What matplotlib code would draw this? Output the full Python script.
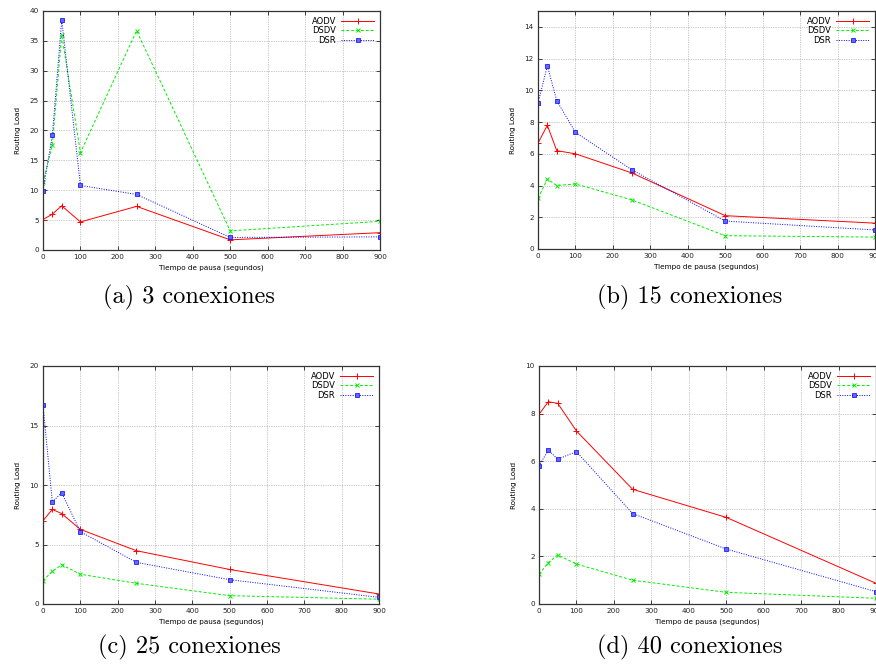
import matplotlib
matplotlib.use('Agg')
import matplotlib.pyplot as plt

pausa = [0, 25, 50, 100, 250, 500, 900]

aodv_3 = [5.1, 6.0, 7.4, 4.7, 7.3, 1.7, 2.9]
dsdv_3 = [11.3, 17.6, 36.0, 16.3, 36.7, 3.2, 4.8]
dsr_3 = [9.9, 19.2, 38.5, 10.8, 9.3, 2.1, 2.2]

aodv_15 = [6.67, 7.8, 6.2, 6.0, 4.8, 2.1, 1.63]
dsdv_15 = [3.2, 4.4, 4.0, 4.1, 3.1, 0.84, 0.75]
dsr_15 = [9.2, 11.55, 9.35, 7.35, 5.0, 1.76, 1.2]

aodv_25 = [7.0, 7.95, 7.6, 6.27, 4.48, 2.9, 0.84]
dsdv_25 = [1.96, 2.75, 3.3, 2.5, 1.74, 0.7, 0.4]
dsr_25 = [16.7, 8.57, 9.36, 6.08, 3.5, 2.04, 0.56]

aodv_40 = [7.97, 8.5, 8.43, 7.27, 4.82, 3.64, 0.87]
dsdv_40 = [1.25, 1.74, 2.06, 1.68, 1.0, 0.49, 0.24]
dsr_40 = [5.81, 6.46, 6.09, 6.4, 3.8, 2.31, 0.52]

captions = ['(a) 3 conexiones', '(b) 15 conexiones', '(c) 25 conexiones', '(d) 40 conexiones']
ymaxs = [40, 15, 20, 10]
ysteps = [5, 2, 5, 2]
series = [(aodv_3, dsdv_3, dsr_3), (aodv_15, dsdv_15, dsr_15),
          (aodv_25, dsdv_25, dsr_25), (aodv_40, dsdv_40, dsr_40)]

W, H = 876, 666
# pixel boxes: left, right, top, bottom
boxes = [(43, 380, 11, 250), (538, 875, 11, 249), (43, 379, 366, 604), (539, 876, 366, 604)]
cap_pos = [(189, 297), (690, 297), (189, 647), (690, 647)]

fig = plt.figure(figsize=(W / 100, H / 100), dpi=100)
fs = 5.2

for k in range(4):
    l, r, t, b = boxes[k]
    ax = fig.add_axes([l / W, 1 - b / H, (r - l) / W, (b - t) / H])
    a, d, s = series[k]
    ax.plot(pausa, a, color='#ff0000', lw=0.7, marker='+', ms=4, mew=0.7, label='AODV')
    ax.plot(pausa, d, color='#00ee00', lw=0.7, ls=(0, (3, 2)), marker='x', ms=3, mew=0.7, label='DSDV')
    ax.plot(pausa, s, color='#0000ff', lw=0.7, ls=(0, (1, 1.5)), marker='s', ms=2.5, mew=0.5,
            mfc='#6666ff', label='DSR')
    ax.set_xlim(0, 900)
    ax.set_ylim(0, ymaxs[k])
    ax.set_xticks(range(0, 901, 100))
    ax.set_yticks(range(0, ymaxs[k] + 1, ysteps[k]))
    ax.tick_params(direction='in', top=True, right=True, labelsize=fs, length=3, width=0.6, pad=3, colors='#222222')
    ax.grid(True, color='#999999', ls=(0, (1, 1.5)), lw=0.5)
    for sp in ax.spines.values():
        sp.set_linewidth(0.9)
        sp.set_color('#333333')
    ax.set_xlabel('Tiempo de pausa (segundos)', fontsize=fs, labelpad=3)
    ax.set_ylabel('Routing Load', fontsize=fs, labelpad=6)
    ax.legend(loc='upper right', frameon=False, fontsize=fs + 0.8, markerfirst=False,
              handlelength=4, labelspacing=0.05, borderaxespad=0.3, handletextpad=0.6)
    cx, cy = cap_pos[k]
    fig.text(cx / W, 1 - cy / H, captions[k], fontsize=17.5, family='cmr10', ha='center', va='center')

fig.savefig('out.png', dpi=100)
